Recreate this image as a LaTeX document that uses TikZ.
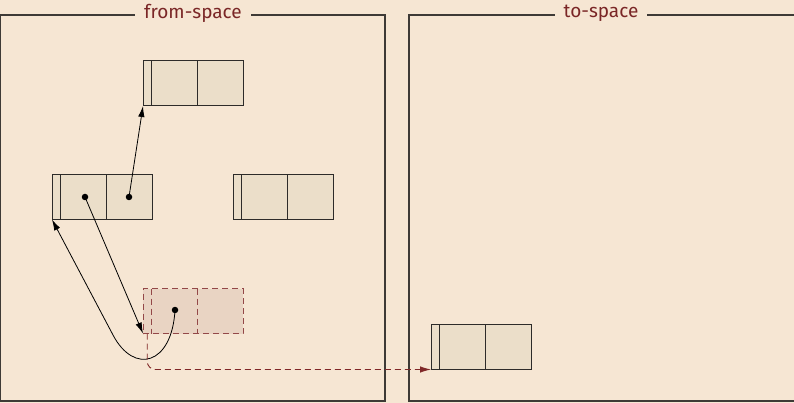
\documentclass[tikz,border=0pt]{standalone}
\usepackage{fontspec}
\setmainfont{Fira Sans}
\usetikzlibrary{arrows.meta}
\definecolor{bgc}{RGB}{246,230,211}
\definecolor{cellc}{RGB}{235,222,201}
\definecolor{fwdc}{RGB}{233,212,195}
\definecolor{titlec}{RGB}{122,38,38}
\definecolor{framec}{RGB}{62,58,54}
\definecolor{objc}{RGB}{45,43,41}
\definecolor{redc}{RGB}{128,40,40}
\tikzset{
  objbox/.style={draw=objc, line width=1pt, fill=cellc, minimum width=100pt, minimum height=45pt, inner sep=0pt, outer sep=0pt},
  fwdbox/.style={draw=redc!85, dash pattern=on 6pt off 4pt, line width=1pt, fill=fwdc, minimum width=100pt, minimum height=45pt, inner sep=0pt, outer sep=0pt},
  frame/.style={draw=framec, line width=1.1pt},
  title/.style={fill=bgc, text=titlec, font=\fontsize{19}{22}\selectfont, inner xsep=9pt, inner ysep=1pt},
  ptr/.style={-{Latex[length=11pt,width=6.5pt]}, line width=0.8pt, black},
  dotn/.style={circle, fill=black, inner sep=0pt, minimum size=6.5pt},
  fwdptr/.style={-{Latex[length=11pt,width=6.5pt]}, redc, line width=0.9pt, dash pattern=on 6pt off 4pt, rounded corners=8pt},
}
\newcommand{\objlines}[2]{%
  \draw[#2] ([xshift=8.5pt]#1.north west) -- ([xshift=8.5pt]#1.south west);
  \draw[#2] ([xshift=54pt]#1.north west) -- ([xshift=54pt]#1.south west);}
\begin{document}
\begin{tikzpicture}[x=1pt,y=-1pt]
\useasboundingbox[fill=bgc] (0,0) rectangle (794,403);
% frames
\draw[frame] (0.6,15) rectangle (385,401);
\node[title] (fromt) at (193,13.5) {from-space};
\draw[frame] (409,15) rectangle (797,401);
\node[title] (tot) at (601,13.5) {to-space};
% objects
\node[objbox] (A) at (193,83.5) {};
\objlines{A}{draw=objc, line width=1pt}
\node[objbox] (B) at (102,197) {};
\objlines{B}{draw=objc, line width=1pt}
\node[objbox] (C) at (283,197) {};
\objlines{C}{draw=objc, line width=1pt}
\node[fwdbox] (D) at (193,311) {};
\objlines{D}{draw=redc!85, dash pattern=on 6pt off 4pt, line width=1pt}
\node[objbox] (E) at (481,347) {};
\objlines{E}{draw=objc, line width=1pt}
% dots
\node[dotn] (b1) at (85,197) {};
\node[dotn] (b2) at (129,197) {};
\node[dotn] (d1) at (175,310) {};
\coordinate (dh) at ([xshift=4.25pt]D.south west);
\coordinate (bend) at (113,335);
% pointers
\draw[ptr] (b2.center) -- (A.south west);
\draw[ptr] (b1.center) -- (D.south west);
\draw[ptr] (d1.center) .. controls (172,365) and (134,375) .. (bend) -- (B.south west);
\draw[fwdptr] (dh) |- (E.south west);
\end{tikzpicture}
\end{document}
